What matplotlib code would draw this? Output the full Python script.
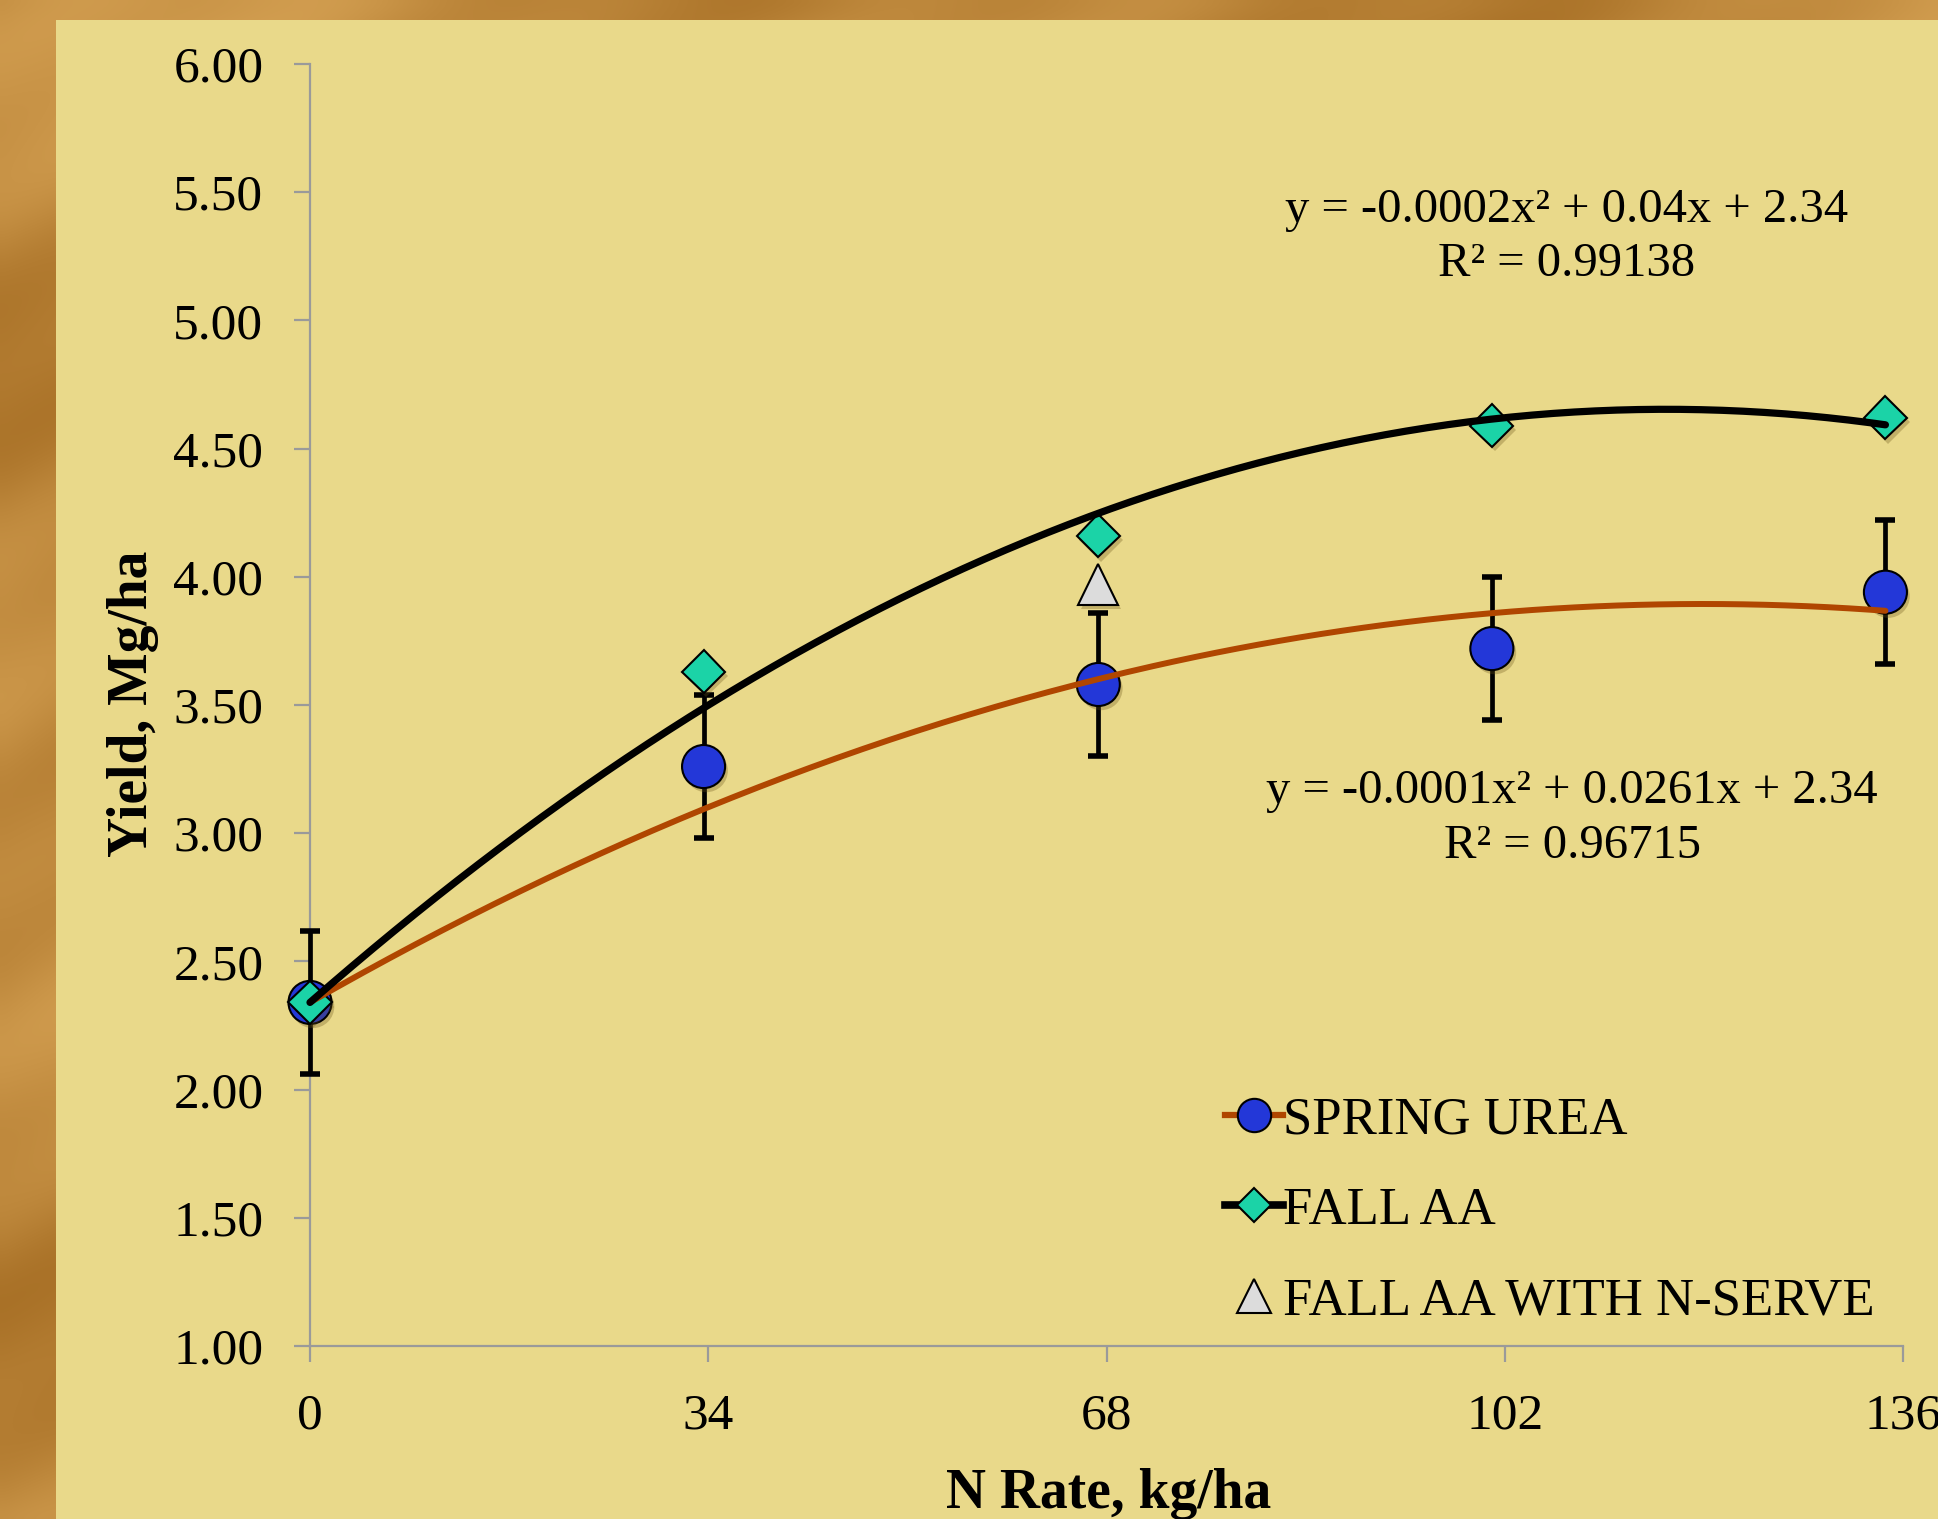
import numpy as np
import matplotlib
matplotlib.use("Agg")
import matplotlib.pyplot as plt
from matplotlib.lines import Line2D
from matplotlib.patches import Rectangle
import matplotlib.patheffects as pe

# ---- data -------------------------------------------------------------
n_rate = [0, 33.6, 67.3, 100.9, 134.5]          # kg N / ha
spring_urea = [2.34, 3.26, 3.58, 3.72, 3.94]    # Mg / ha
spring_urea_err = [0.28, 0.28, 0.28, 0.28, 0.28]
fall_aa = [2.34, 3.63, 4.16, 4.59, 4.62]
nserve_rate = [67.3]
fall_aa_nserve = [3.97]

x_ticks = [0, 34, 68, 102, 136]
y_ticks = [1.0, 1.5, 2.0, 2.5, 3.0, 3.5, 4.0, 4.5, 5.0, 5.5, 6.0]

legend_labels = ["SPRING UREA", "FALL AA", "FALL AA WITH N-SERVE"]
eq_fall = ["y = -0.0002x² + 0.04x + 2.34", "R² = 0.99138"]
eq_spring = ["y = -0.0001x² + 0.0261x + 2.34", "R² = 0.96715"]

# ---- style ------------------------------------------------------------
SERIF = ["Liberation Serif", "DejaVu Serif"]
plt.rcParams["font.family"] = SERIF
PANEL = "#E9D98A"
BLUE = "#2337D8"
TEAL = "#1BD3A7"
TRI = "#DCDCDC"
RUST = "#B04600"
GRAY = "#9A9A9A"

W, H = 1938, 1519
fig = plt.figure(figsize=(W / 100, H / 100), dpi=100)


def fx(px):
    return px / W


def fy(py):
    return 1 - py / H


# wooden backdrop with a light panel on top of it
bg = fig.add_axes([0, 0, 1, 1], zorder=-10)
yy, xx = np.mgrid[0:1:160j, 0:1:200j]
t = (0.5
     + 0.22 * np.sin(2 * np.pi * (2.2 * xx + 3.1 * yy))
     + 0.18 * np.sin(2 * np.pi * (0.9 * xx - 1.7 * yy) + 1.3)
     + 0.10 * np.sin(2 * np.pi * (7.0 * xx + 9.0 * yy) + 0.4))
t = np.clip(t, 0, 1)[..., None]
dark = np.array([168, 112, 38]) / 255
light = np.array([212, 160, 82]) / 255
wood = dark * (1 - t) + light * t
bg.imshow(wood, extent=[0, 1, 0, 1], aspect="auto", interpolation="bicubic")
bg.add_patch(Rectangle((fx(56), 0), 1 - fx(56), fy(20), color=PANEL, lw=0))
bg.set_xlim(0, 1)
bg.set_ylim(0, 1)
bg.axis("off")

# ---- main axes ----------------------------------------------------------
ax = fig.add_axes([fx(310), fy(1346), fx(1903 - 310), (1346 - 64) / H])
ax.patch.set_visible(False)
ax.set_xlim(0, 136)
ax.set_ylim(1, 6)
ax.set_xticks(x_ticks)
ax.set_xticklabels([str(v) for v in x_ticks])
ax.set_yticks(y_ticks)
ax.set_yticklabels([f"{v:.2f}" for v in y_ticks])
for s in ("top", "right"):
    ax.spines[s].set_visible(False)
for s in ("left", "bottom"):
    ax.spines[s].set_color(GRAY)
    ax.spines[s].set_linewidth(1.6)
ax.tick_params(direction="out", length=11.5, width=1.6, color=GRAY,
               labelsize=37, pad=22, labelcolor="black")

shadow = [pe.SimplePatchShadow(offset=(2, -3), shadow_rgbFace="#6a5418",
                               alpha=0.3), pe.Normal()]

ax.errorbar(n_rate, spring_urea, yerr=spring_urea_err, fmt="none",
            ecolor="black", elinewidth=3.4, capsize=7, capthick=4,
            zorder=2.7, clip_on=False)
ax.plot(n_rate, spring_urea, "o", ms=31, mfc=BLUE, mec="black", mew=1.5,
        zorder=3, clip_on=False, path_effects=shadow)
ax.plot(nserve_rate, fall_aa_nserve, "^", ms=29, mfc=TRI, mec="black",
        mew=1.5, zorder=3, clip_on=False, path_effects=shadow)
ax.plot(n_rate, fall_aa, "D", ms=22, mfc=TEAL, mec="black", mew=1.5,
        zorder=4, clip_on=False, path_effects=shadow)


def quad_trend(x, y):
    """Second-order trend with the intercept held at the zero-N yield."""
    x = np.asarray(x, float)
    y = np.asarray(y, float)
    y0 = y[0]
    A = np.column_stack([x ** 2, x])
    (a, b), *_ = np.linalg.lstsq(A, y - y0, rcond=None)
    xs = np.linspace(x.min(), x.max(), 300)
    return xs, a * xs ** 2 + b * xs + y0


xs, ys = quad_trend(n_rate, spring_urea)
ax.plot(xs, ys, color=RUST, lw=4.3, zorder=5, clip_on=False,
        solid_capstyle="round")
xs, ys = quad_trend(n_rate, fall_aa)
ax.plot(xs, ys, color="black", lw=5.2, zorder=5, clip_on=False,
        solid_capstyle="round")

# ---- trend equations ---------------------------------------------------
for line, py in zip(eq_fall, (222, 276)):
    fig.text(fx(1567), fy(py), line, ha="center", va="baseline", fontsize=35)
for line, py in zip(eq_spring, (803, 858)):
    fig.text(fx(1572), fy(py), line, ha="center", va="baseline", fontsize=35)

# ---- axis titles --------------------------------------------------------
fig.text(fx(133), fy(704), "Yield, Mg/ha", rotation=90, ha="center",
         va="center", fontsize=40, fontweight="bold")
fig.text(fx(1109), fy(1508), "N Rate, kg/ha", ha="center", va="baseline",
         fontsize=40, fontweight="bold")

# ---- legend --------------------------------------------------------------
handles = [
    Line2D([], [], color=RUST, lw=4.5, marker="o", ms=24, mfc=BLUE,
           mec="black", mew=1.5),
    Line2D([], [], color="black", lw=5.5, marker="D", ms=17, mfc=TEAL,
           mec="black", mew=1.5),
    Line2D([], [], ls="none", marker="^", ms=24, mfc=TRI, mec="black",
           mew=1.5),
]
ax.legend(handles, legend_labels, loc="upper left",
          bbox_to_anchor=(fx(1225), fy(1096)), bbox_transform=fig.transFigure,
          frameon=False, fontsize=38, handlelength=1.1, handletextpad=0.0,
          labelspacing=0.81, borderpad=0, borderaxespad=0)

fig.savefig("out.png", dpi=100)
